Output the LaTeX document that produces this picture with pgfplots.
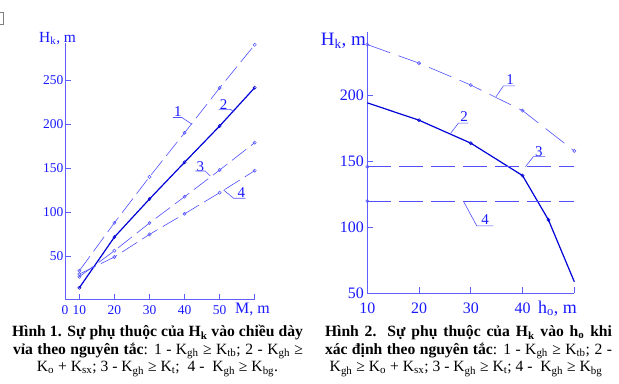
\documentclass[border=0pt]{standalone}
\usepackage{fontspec}
\setmainfont{Liberation Serif}
\usepackage{pgfplots}
\usepackage{pgfplotstable}
\pgfplotsset{compat=1.18}
\definecolor{axc}{RGB}{95,95,255}
\definecolor{lc}{RGB}{80,80,255}
\definecolor{dc}{RGB}{0,0,215}
\definecolor{tc}{RGB}{25,25,255}

\pgfplotstableread{
x s1 s2 s3 s4
10 33.3 14.0 26.5 29.5
20 87.8 71.6 56.0 48.9
30 140.0 114.8 87.5 74.6
40 190.0 156.5 117.4 98.0
50 241.0 197.7 147.7 122.0
60 290.0 241.3 178.8 147.0
}\tableA

\pgfplotstableread{
x s1
10 238.7
20 224.6
30 208.0
40 188.6
50 158.0
}\tableBa

\pgfplotstableread{
x s2
10 194.5
20 181.3
30 163.9
40 139.3
45 105.7
50 58.8
}\tableBb

\pgfplotstableread{
x s3 s4
10 146 120
50 146 120
}\tableBc

\tikzset{
  lab/.style={text=tc, font=\fontsize{15}{17}\selectfont, inner sep=0pt},
  lead/.style={lc, line width=0.6bp},
}
\pgfplotsset{
  myax/.style={
    scale only axis, anchor=south west, clip=false,
    axis x line=bottom, axis y line=left,
    axis line style={-, draw=axc, line width=0.9bp},
    tick align=inside, major tick length=6bp,
    tick style={draw=axc, line width=0.8bp},
    /pgf/number format/assume math mode=true,
  },
  dline/.style={lc, line width=0.6bp, mark=o, mark size=1.6bp, mark options={solid, fill=white, line width=0.5bp}},
  sline/.style={dc, line width=1.2bp, mark=o, mark size=1.6bp, mark options={solid, fill=white, line width=0.5bp}},
}

\begin{document}
\begin{tikzpicture}
\path[use as bounding box, fill=white] (0bp,0bp) rectangle (619bp,-384bp);
% small artefact box top-left
\draw[gray, line width=0.6bp] (0bp,-12.7bp) -- (3bp,-12.7bp) -- (3bp,-24bp) -- (0bp,-24bp);

% ---------------- Chart 1 ----------------
\begin{axis}[myax,
  at={(65bp,-299.5bp)}, width=189.7bp, height=256.8bp,
  xmin=5.9, xmax=60, ymin=0.6, ymax=292.4,
  xtick={5.9,10,20,30,40,50,60}, xticklabels={0,10,20,30,40,50,{}},
  ytick={50,100,150,200,250},
  ticklabel style={font=\fontsize{13.5}{15}\selectfont, text=tc},
  yticklabel style={inner sep=1.5bp},
  xticklabel style={yshift=-2.5bp},
]
\addplot[dline, dash pattern=on 18bp off 6bp] table[x=x,y=s1] {\tableA};
\addplot[sline] table[x=x,y=s2] {\tableA};
\addplot[dline, dash pattern=on 18bp off 6bp] table[x=x,y=s3] {\tableA};
\addplot[dline, dash pattern=on 18bp off 6bp] table[x=x,y=s4] {\tableA};
% series labels
\node[lab] at (38.06,214.0) {1};
\draw[lead] (36.69,207.4) -- (39.26,207.4) -- (42.11,199.7);
\node[lab] at (51.14,222.5) {2};
\draw[lead] (49.71,216.7) -- (53.06,216.7) -- (54.2,213.6);
\node[lab] at (44.49,151.5) {3};
\draw[lead] (43.06,146.6) -- (45.91,146.6) -- (47.34,140.9);
\node[lab] at (56.2,121.6) {4};
\draw[lead] (57.34,115.6) -- (54.0,115.6) -- (51.14,125.0);
\end{axis}
\node[anchor=base west, text=tc, inner sep=0pt, font=\fontsize{15.5}{18}\selectfont] at (39bp,-42bp) {H\textsubscript{k}, m};
\node[anchor=base west, text=tc, inner sep=0pt, font=\fontsize{16}{18}\selectfont] at (235bp,-313.3bp) {M, m};

% ---------------- Chart 2 ----------------
\begin{axis}[myax,
  at={(367.3bp,-293.3bp)}, width=207bp, height=261bp,
  xmin=10, xmax=50, ymin=50, ymax=248,
  xtick={10,20,30,40,50}, xticklabels={10,20,30,40,{}},
  ytick={50,100,150,200},
  ticklabel style={font=\fontsize{16}{18}\selectfont, text=tc},
  xticklabel style={yshift=-6bp},
]
\addplot[dline, dash pattern=on 24bp off 9bp] table[x=x,y=s1] {\tableBa};
\addplot[sline, mark indices={2,3,4,5}] table[x=x,y=s2] {\tableBb};
\addplot[dline, dash pattern=on 24bp off 8bp, mark indices={1}] table[x=x,y=s3] {\tableBc};
\addplot[dline, dash pattern=on 24bp off 8bp, mark indices={1}] table[x=x,y=s4] {\tableBc};
\node[lab] at (37.6,211.9) {1};
\draw[lead] (38.57,207.4) -- (36.3,207.4) -- (34.89,199.2);
\node[lab] at (28.7,183.8) {2};
\draw[lead] (29.54,179.1) -- (27.6,179.1) -- (26.13,171.5);
\node[lab] at (43.15,157.5) {3};
\draw[lead] (44.37,153.7) -- (42.1,153.7) -- (40.56,146.1);
\node[lab] at (32.77,105.7) {4};
\draw[lead] (34.37,101.1) -- (31.16,101.1) -- (28.57,119.9);
\end{axis}
\node[anchor=base west, text=tc, inner sep=0pt, font=\fontsize{19}{21}\selectfont] at (320.7bp,-45bp) {H\textsubscript{k}, m};
\node[anchor=base west, text=tc, inner sep=0pt, font=\fontsize{18}{20}\selectfont] at (538bp,-313bp) {h\textsubscript{o}, m};

% ---------------- Captions ----------------
\begin{scope}[every node/.style={anchor=base, inner sep=0pt, font=\fontsize{15.7}{18}\selectfont}]
\node at (157.5bp,-336.5bp) {\makebox[291bp][s]{\bfseries Hình 1. Sự phụ thuộc của H\textsubscript{k} vào chiều dày}};
\node at (158bp,-354.2bp) {\makebox[290bp][s]{\textbf{vỉa theo nguyên tắc}: 1 - K\textsubscript{gh} ≥ K\textsubscript{tb}; 2 - K\textsubscript{gh} ≥}};
\node at (157.5bp,-371.7bp) {K\textsubscript{o} + K\textsubscript{sx}; 3 - K\textsubscript{gh} ≥ K\textsubscript{t};\ \ 4 -\ \ K\textsubscript{gh} ≥ K\textsubscript{bg}.};
\node at (468.5bp,-336.5bp) {\makebox[287bp][s]{\bfseries Hình 2. Sự phụ thuộc của H\textsubscript{k} vào h\textsubscript{o} khi}};
\node at (468.5bp,-354.2bp) {\makebox[287bp][s]{\textbf{xác định theo nguyên tắc}: 1 - K\textsubscript{gh} ≥ K\textsubscript{tb}; 2 -}};
\node at (466bp,-371.7bp) {K\textsubscript{gh} ≥ K\textsubscript{o} + K\textsubscript{sx}; 3 - K\textsubscript{gh} ≥ K\textsubscript{t}; 4 -\ \ K\textsubscript{gh} ≥ K\textsubscript{bg}};
\end{scope}
\end{tikzpicture}
\end{document}
